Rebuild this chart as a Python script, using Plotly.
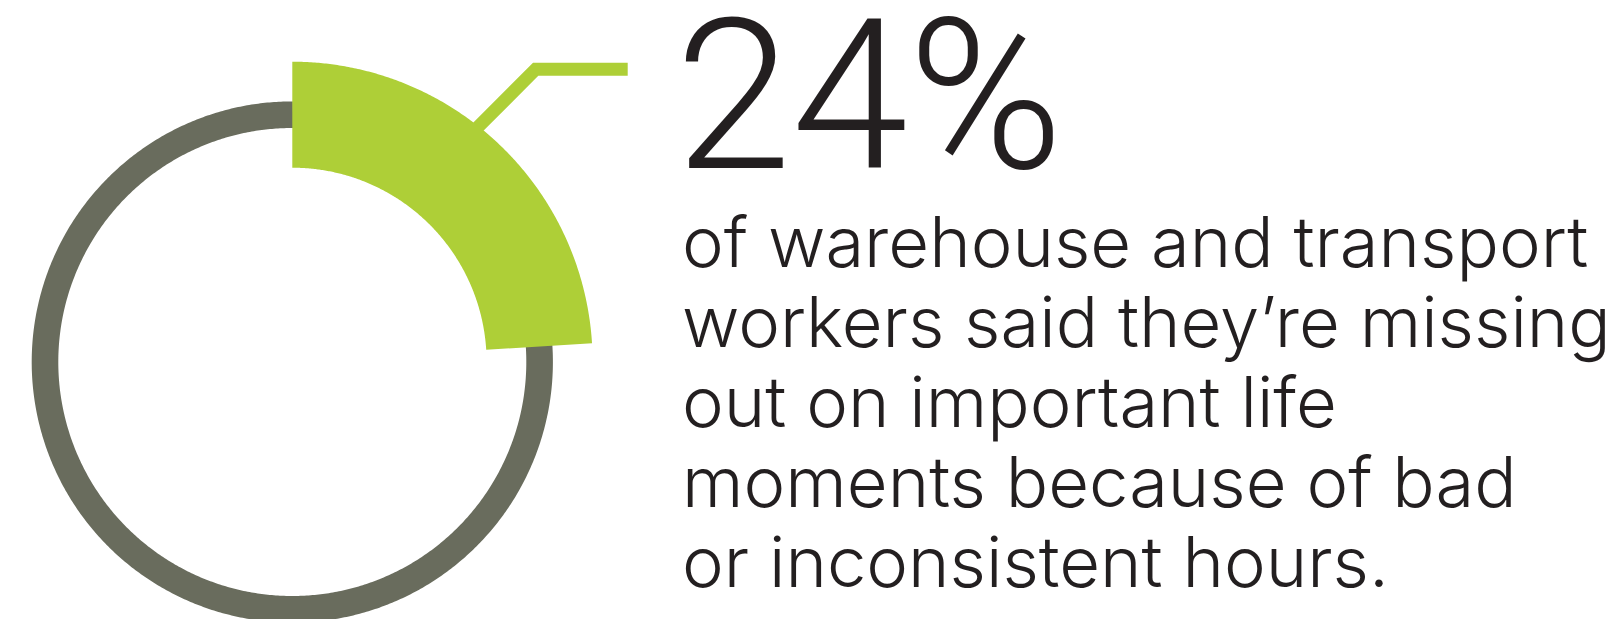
import numpy as np
import plotly.graph_objects as go

# Survey result shown in the ring
share_pct = [24]
headline = ["24%"]
body_lines = [
    "of warehouse and transport",
    "workers said they’re missing",
    "out on important life",
    "moments because of bad",
    "or inconsistent hours.",
]

W, H = 1623, 619
GREEN = "#AECF37"
GREY = "#696C5D"
INK = "#231F20"

# ring geometry (pixel units, y grows downward)
CX, CY = 292.3, 362.0
TRACK_R_OUT, TRACK_R_IN = 260.6, 234.0
HI_R_OUT, HI_R_IN = 300.3, 194.3


def polar_xy(radius, angle_deg):
    a = np.radians(angle_deg)
    return CX + radius * np.sin(a), CY - radius * np.cos(a)


fig = go.Figure()

# full grey track drawn as a thick circular stroke
track_r = (TRACK_R_OUT + TRACK_R_IN) / 2
ang = np.linspace(0, 360, 721)
tx, ty = polar_xy(track_r, ang)
fig.add_trace(go.Scatter(
    x=tx, y=ty, mode="lines",
    line=dict(color=GREY, width=TRACK_R_OUT - TRACK_R_IN, simplify=False),
    hoverinfo="skip", showlegend=False,
))

# highlighted share as a wedge of a wider ring
sweep = share_pct[0] / 100 * 360
arc = np.linspace(0, sweep, 241)
ox, oy = polar_xy(HI_R_OUT, arc)
ix, iy = polar_xy(HI_R_IN, arc[::-1])
fig.add_trace(go.Scatter(
    x=np.concatenate([ox, ix, ox[:1]]),
    y=np.concatenate([oy, iy, oy[:1]]),
    mode="lines", fill="toself", fillcolor=GREEN,
    line=dict(width=0, color=GREEN, simplify=False),
    hoverinfo="skip", showlegend=False,
))

# callout leader from the wedge to the headline
fig.add_shape(
    type="path", xref="x", yref="y",
    path="M 461 144 L 535.7 69.2 L 627.7 69.2",
    line=dict(color=GREEN, width=13),
    layer="below",
)

fig.add_annotation(
    x=673, y=96, xref="x", yref="y",
    text=headline[0], showarrow=False,
    xanchor="left", yanchor="middle",
    font=dict(family="Roboto", size=210, color=INK, weight=300),
)

BODY_X, BASE0, LEAD, BODY_SIZE = 680, 267, 80, 70.5
for i, line in enumerate(body_lines):
    fig.add_annotation(
        x=BODY_X, y=BASE0 + i * LEAD - 0.36 * BODY_SIZE, xref="x", yref="y",
        text=line, showarrow=False,
        xanchor="left", yanchor="middle",
        font=dict(family="Inter", size=BODY_SIZE, color=INK, weight=300),
    )

fig.update_xaxes(range=[0, W], visible=False, fixedrange=True)
fig.update_yaxes(range=[H, 0], visible=False, fixedrange=True)
fig.update_layout(
    width=W, height=H, autosize=False,
    margin=dict(l=0, r=0, t=0, b=0, pad=0),
    paper_bgcolor="white", plot_bgcolor="white",
    showlegend=False,
)

fig.write_html("out.html", config={"displayModeBar": False})
